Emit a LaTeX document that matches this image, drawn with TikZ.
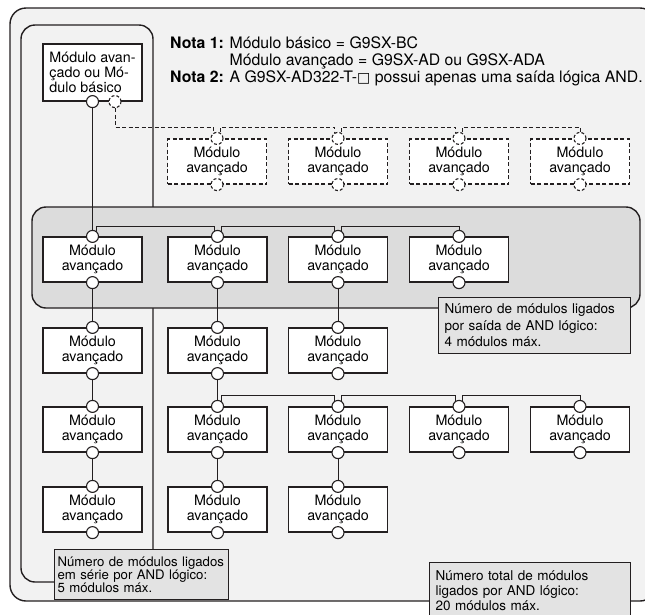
\documentclass[tikz,border=0pt]{standalone}
\usepackage{fontspec}
\setmainfont{TeX Gyre Heros}
\newfontfamily\symbolfont{DejaVu Sans}
\definecolor{linecol}{HTML}{231F20}
\definecolor{bgfill}{HTML}{F2F2F2}
\definecolor{bandfill}{HTML}{DCDCDC}
\definecolor{notefill}{HTML}{E3E3E3}
\pgfdeclarelayer{back}
\pgfdeclarelayer{wires}
\pgfsetlayers{back,wires,main}
\tikzset{
    frame/.style={draw=linecol, line width=1.4pt},
    module/.style={draw=linecol, line width=1.2pt, fill=white, minimum width=99pt,
        minimum height=45pt, inner sep=0pt, align=center, font=\fontsize{14.3}{15}\selectfont},
    dmodule/.style={module, dash pattern=on 4pt off 2.5pt},
    port/.style={circle, draw=linecol, line width=1.1pt, fill=white, minimum size=12pt, inner sep=0pt},
    dport/.style={port, dash pattern=on 3pt off 2pt},
    wire/.style={draw=linecol, line width=0.9pt},
    dwire/.style={wire, dash pattern=on 4pt off 2.5pt},
    notebox/.style={draw=linecol, line width=1.2pt, fill=notefill, anchor=north west,
        align=left, inner ysep=0pt}
}
\begin{document}
\begin{tikzpicture}[x=1pt, y=-1pt]
    \useasboundingbox (0,0) rectangle (645,614);
    \begin{pgfonlayer}{back}
        \path[frame, fill=bgfill, rounded corners=16pt] (10,8) rectangle (656,601);
        \path[frame, fill=bgfill, rounded corners=14pt] (21,25) rectangle (153,582);
        \path[frame, fill=bandfill, rounded corners=14pt] (32,207) rectangle (640,308);
    \end{pgfonlayer}

    \node[anchor=base west, inner sep=0pt, font=\fontsize{15.8}{16.7}\selectfont] (nota) at (170,48.5)
        {\begin{tabular}[t]{@{}l@{ }l@{}}
            \textbf{Nota 1:} & Módulo básico = G9SX-BC\\
            & Módulo avançado = G9SX-AD ou G9SX-ADA\\
            \textbf{Nota 2:} & A G9SX-AD322-T-{\symbolfont\fontsize{14}{14}\selectfont □} possui apenas uma saída lógica AND.
        \end{tabular}};

    \node[module, align=left, minimum height=57pt] (base) at (92.5,72.5)
        {Módulo avan-\\çado ou Mó-\\dulo básico};
    \node[port] (obase) at (base.south) {};
    \node[dport] (dbase) at ([xshift=22.5pt]base.south) {};

    \foreach \n/\x in {d2/217, d3/338, d4/459, d5/580} {
        \node[dmodule] (\n) at (\x,161.5) {Módulo\\avançado};
        \node[dport] (i\n) at (\n.north) {};
        \node[dport] (o\n) at (\n.south) {};
        \coordinate (l\n) at ([xshift=-3.5pt]i\n.center);
        \coordinate (r\n) at ([xshift=3.5pt]i\n.center);
    }

    \foreach \n/\x/\y in {m11/92.5/259.5, m12/217.5/259.5, m13/338/259.5, m14/459/259.5,
            m21/92.5/350.5, m22/217.5/350.5, m23/338/350.5,
            m31/92.5/429.5, m32/217.5/429.5, m33/338/429.5, m34/459/429.5, m35/580/429.5,
            m41/92.5/509.5, m42/217.5/509.5, m43/338/509.5} {
        \node[module] (\n) at (\x,\y) {Módulo\\avançado};
        \node[port] (i\n) at (\n.north) {};
        \node[port] (o\n) at (\n.south) {};
        \coordinate (l\n) at ([xshift=-3.5pt]i\n.center);
        \coordinate (r\n) at ([xshift=3.5pt]i\n.center);
    }

    \node[notebox, minimum width=192pt, minimum height=56pt, inner xsep=6pt, text width=180pt,
        font=\fontsize{13.5}{16.5}\selectfont] (maxand) at (438,297)
        {Número de módulos ligados\\por saída de AND lógico:\\4 módulos máx.};
    \node[notebox, minimum width=174pt, minimum height=50pt, inner xsep=3pt, text width=168pt,
        font=\fontsize{13.2}{13}\selectfont] (maxserie) at (54,549)
        {Número de módulos ligados\\em série por AND lógico:\\5 módulos máx.};
    \node[notebox, minimum width=201pt, minimum height=56pt, inner xsep=6pt, text width=189pt,
        font=\fontsize{13.5}{15.3}\selectfont] (maxtotal) at (429,562)
        {Número total de módulos\\ligados por AND lógico:\\20 módulos máx.};

    \coordinate (busd) at (0,127);
    \coordinate (busa) at (0,226);
    \coordinate (busb) at (0,395);
    \begin{pgfonlayer}{wires}
        \path[dwire] (dbase) |- (busd -| ld2) -- (ld2)
            (rd2) |- (busd -| ld3) -- (ld3)
            (rd3) |- (busd -| ld4) -- (ld4)
            (rd4) |- (busd -| id5) -- (id5);
        \path[wire] (obase) -- (im11);
        \path[wire] (rm11) |- (busa -| lm12) -- (lm12)
            (rm12) |- (busa -| lm13) -- (lm13)
            (rm13) |- (busa -| im14) -- (im14);
        \path[wire] (om11) -- (im21) (om21) -- (im31) (om31) -- (im41);
        \path[wire] (om12) -- (im22) (om22) -- (im32) (om32) -- (im42);
        \path[wire] (om13) -- (im23) (om33) -- (im43);
        \path[wire] (rm32) |- (busb -| lm33) -- (lm33)
            (rm33) |- (busb -| lm34) -- (lm34)
            (rm34) |- (busb -| im35) -- (im35);
    \end{pgfonlayer}
\end{tikzpicture}
\end{document}
